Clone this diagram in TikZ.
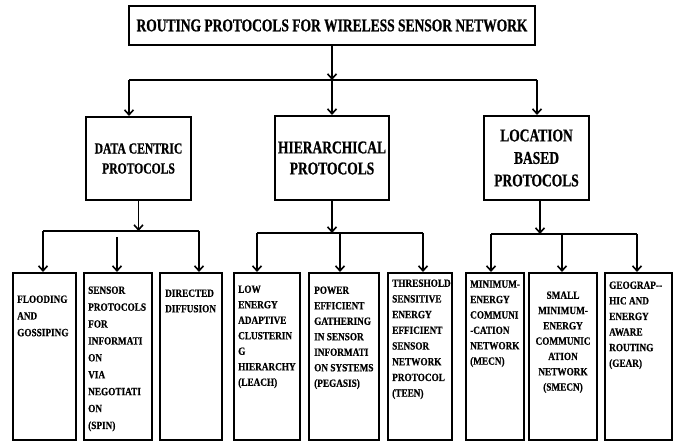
\documentclass[tikz,border=0pt]{standalone}
\usepackage{fontspec}
\setmainfont{Liberation Serif}
\newfontfamily\bigf{Liberation Serif}[FakeStretch=0.75,FakeBold=0.8]
\newfontfamily\smf{Liberation Serif}[FakeStretch=0.84,FakeBold=0.5]
\usetikzlibrary{arrows.meta}
\tikzset{
  box/.style={draw, line width=2pt, inner sep=0pt, align=center},
  leaf/.style={draw, line width=2pt, inner sep=0pt, minimum height=167pt},
  arr/.style={line width=1.6pt, -{Straight Barb[length=5pt,width=9pt]}},
  hbar/.style={line width=2pt},
  ltext/.style={anchor=north west, align=left, inner sep=0pt},
  sm/.style={font=\smf\bfseries\fontsize{11}{#1}\selectfont},
}
\begin{document}
\begin{tikzpicture}[x=1pt,y=-1pt]
\useasboundingbox (0,0) rectangle (679,443);
% top
\node[box, minimum width=406pt, minimum height=39pt, font=\bigf\bfseries\fontsize{18}{20}\selectfont] (top) at (332,25.5) {ROUTING PROTOCOLS FOR WIRELESS SENSOR NETWORK};
% level 2
\node[box, minimum width=105pt, minimum height=83pt, font=\bigf\bfseries\fontsize{15.5}{20}\selectfont] (dc) at (138.5,158.5) {DATA CENTRIC\\PROTOCOLS};
\node[box, minimum width=114pt, minimum height=84pt, font=\bigf\bfseries\fontsize{18}{21}\selectfont] (hi) at (332,158) {HIERARCHICAL\\PROTOCOLS};
\node[box, minimum width=105pt, minimum height=84pt, font=\bigf\bfseries\fontsize{18}{22.5}\selectfont] (lb) at (536.5,158) {LOCATION\\BASED\\PROTOCOLS};
% top bar
\coordinate (tL) at (129,80);
\coordinate (tM) at (332,80);
\coordinate (tR) at (537,80);
\draw[arr] (top.south) -- (tM);
\draw[hbar] (tL) -- (tR);
\draw[arr] (tL) -- (tL |- dc.north);
\draw[arr] (tM) -- (tM |- hi.north);
\draw[arr] (tR) -- (tR |- lb.north);
% leaves
\node[leaf, minimum width=63pt] (b1) at (44.5,356.5) {};
\node[leaf, minimum width=68pt] (b2) at (118,356.5) {};
\node[leaf, minimum width=62pt] (b3) at (191,356.5) {};
\node[leaf, minimum width=66pt] (b4) at (267,356.5) {};
\node[leaf, minimum width=70pt] (b5) at (344,356.5) {};
\node[leaf, minimum width=64pt] (b6) at (420,356.5) {};
\node[leaf, minimum width=58pt] (b7) at (495,356.5) {};
\node[leaf, minimum width=68pt] (b8) at (563,356.5) {};
\node[leaf, minimum width=67pt] (b9) at (638.5,356.5) {};
% leaf texts
\node[ltext, sm=16.7] (t1) at (17,295.3) {FLOODING\\AND\\GOSSIPING};
\node[ltext, sm=16.9] (t2) at (88,286.3) {SENSOR\\PROTOCOLS\\FOR\\INFORMATI\\ON\\VIA\\NEGOTIATI\\ON\\(SPIN)};
\node[ltext, sm=15.5] (t3) at (165,289.3) {DIRECTED\\DIFFUSION};
\node[ltext, sm=15.5] (t4) at (238,285.3) {LOW\\ENERGY\\ADAPTIVE\\CLUSTERIN\\G\\HIERARCHY\\(LEACH)};
\node[ltext, sm=15.5] (t5) at (314,286.3) {POWER\\EFFICIENT\\GATHERING\\IN SENSOR\\INFORMATI\\ON SYSTEMS\\(PEGASIS)};
\node[ltext, sm=15.7] (t6) at (392,279.3) {THRESHOLD\\SENSITIVE\\ENERGY\\EFFICIENT\\SENSOR\\NETWORK\\PROTOCOL\\(TEEN)};
\node[ltext, sm=15.4] (t7) at (470,280.3) {MINIMUM-\\ENERGY\\COMMUNI\\-CATION\\NETWORK\\(MECN)};
\node[anchor=north, align=center, inner sep=0pt, sm=15.3] (t8) at (563,291.3) {SMALL\\MINIMUM-\\ENERGY\\COMMUNIC\\ATION\\NETWORK\\(SMECN)};
\node[ltext, sm=15.6] (t9) at (609,281.3) {GEOGRAP--\\HIC AND\\ENERGY\\AWARE\\ROUTING\\(GEAR)};
% data centric group
\coordinate (dL) at (43,231);
\coordinate (dR) at (199,231);
\coordinate (dM) at (117,237);
\draw[arr] (dc.south) -- (dc.south |- dL);
\draw[hbar] (dL) -- (dR);
\draw[arr] (dL) -- (dL |- b1.north);
\draw[arr] (dM) -- (dM |- b2.north);
\draw[arr] (dR) -- (dR |- b3.north);
% hierarchical group
\coordinate (hL) at (257,233);
\coordinate (hR) at (423,233);
\coordinate (hM) at (340,233);
\draw[arr] (hi.south) -- (hi.south |- hL);
\draw[hbar] (hL) -- (hR);
\draw[arr] (hL) -- (hL |- b4.north);
\draw[arr] (hM) -- (hM |- b5.north);
\draw[arr] (hR) -- (hR |- b6.north);
% location group
\coordinate (lL) at (491,234);
\coordinate (lR) at (637,234);
\coordinate (lM) at (562,234);
\draw[arr] ([xshift=3.5pt]lb.south) -- ([xshift=3.5pt]lb.south |- lL);
\draw[hbar] (lL) -- (lR);
\draw[arr] (lL) -- (lL |- b7.north);
\draw[arr] (lM) -- (lM |- b8.north);
\draw[arr] (lR) -- (lR |- b9.north);
\end{tikzpicture}
\end{document}
